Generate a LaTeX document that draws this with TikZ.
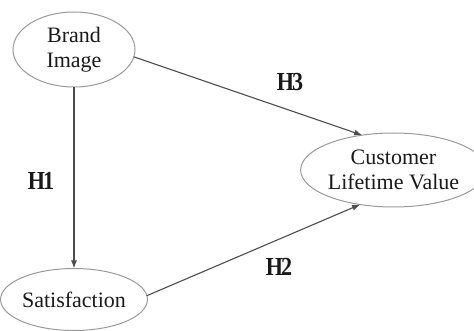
\documentclass[tikz,border=0pt]{standalone}
\usepackage{fontspec}
\setmainfont{Liberation Serif}
\usetikzlibrary{shapes.geometric,arrows.meta}
\begin{document}
\begin{tikzpicture}[x=1pt,y=-1pt,
  construct/.style={ellipse,draw=black!40,line width=1pt,inner sep=0pt,outer sep=0pt,
    align=center,font=\fontsize{22}{24.5}\selectfont,text=black!90},
  path/.style={draw=black!70,line width=1.1pt,-{Latex[length=8pt,width=6pt]}},
  hyp/.style={font=\fontsize{26}{28}\bfseries\selectfont,text=black!90,xscale=0.85}]
\useasboundingbox (0,0) rectangle (474,331);
\node[construct,minimum width=122pt,minimum height=75pt] (bi) at (74,49.5) {Brand\\Image};
\node[construct,minimum width=122pt,minimum height=62pt] (sat) at (74,299.5) {Satisfaction};
\node[construct,minimum width=160pt,minimum height=74pt] (clv) at (393.5,170) {Customer\\Lifetime Value};
\draw[path] (bi) -- (sat);
\draw[path] (bi.-7) -- (clv.132);
\draw[path] (sat.3) -- (clv.226);
\node[hyp] (h1) at (41,181) {H\kern-2.5pt1};
\node[hyp] (h2) at (279,267) {H\kern-2.5pt2};
\node[hyp] (h3) at (290,82) {H\kern-2.5pt3};
\end{tikzpicture}
\end{document}
